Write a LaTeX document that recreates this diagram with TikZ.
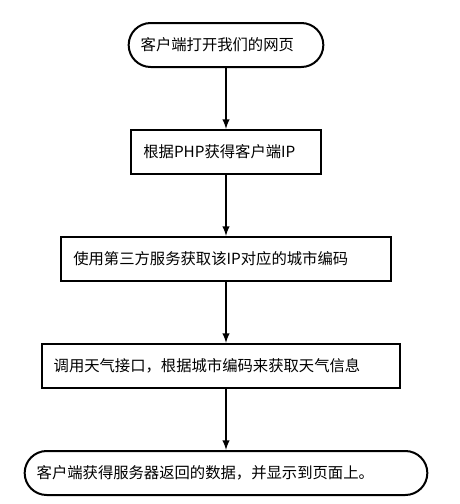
\documentclass[tikz,border=0pt]{standalone}
\usepackage{fontspec}
\setmainfont{Noto Sans CJK SC}
\usetikzlibrary{arrows, positioning}

\begin{document}
\begin{tikzpicture}[x=0.75pt,y=-0.75pt,node distance=80.25pt,
		stepbox/.style={rectangle,draw,line width=1.5pt,minimum height=33pt,inner xsep=9pt,align=left,font=\fontsize{11.5}{14}\selectfont},
		termbox/.style={stepbox,rounded corners=16.5pt}]
		\useasboundingbox (0,0) rectangle (460,504);
		
		\node[termbox,text width=128pt] (start) at (226,45) {客户端打开我们的网页};
		
		\node[stepbox,text width=124pt,below of=start] (A) {根据PHP获得客户端IP};
		
		\node[stepbox,text width=229pt,below of=A] (B) {使用第三方服务获取该IP对应的城市编码};
		
		\node[stepbox,text width=251pt,below of=B,xshift=-3.75pt] (C) {调用天气接口，根据城市编码来获取天气信息};
		
		\node[termbox,text width=284pt,below of=B,yshift=-80.25pt] (D) {客户端获得服务器返回的数据，并显示到页面上。};
		
		\draw[line width=1.5pt,-latex] (start) -- (A);
		\draw[line width=1.5pt,-latex] (A) -- (B);
		\draw[line width=1.5pt,-latex] (B) -- (B |- C.north);
		\draw[line width=1.5pt,-latex] (B |- C.south) -- (D);
		
	\end{tikzpicture}
\end{document}
